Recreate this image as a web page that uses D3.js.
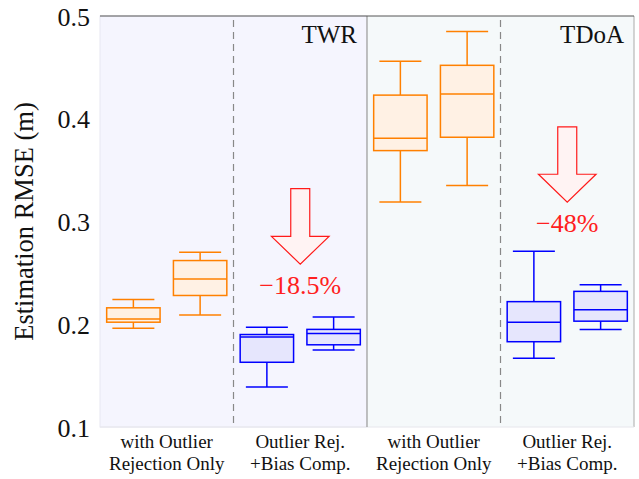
<!DOCTYPE html>
<meta charset="utf-8">
<head>
	<title>Estimation RMSE boxplots</title>
	<script src="https://cdn.jsdelivr.net/npm/d3@7"></script>
	<style>
		body { margin: 0; background: #fff; }
		text { font-family: "Liberation Serif", "Times New Roman", serif; }
	</style>
</head>
<body>
	<div id="chart"></div>
	<script>
		// data
		var groups = ["TWR", "TDoA"];
		var methods = [["with Outlier", "Rejection Only"], ["Outlier Rej.", "+Bias Comp."]];
		// box order: TWR-outlier (2), TWR-bias (2), TDoA-outlier (2), TDoA-bias (2)
		var boxSection = [0, 0, 1, 1, 2, 2, 3, 3];
		var boxSlot = [0, 1, 0, 1, 0, 1, 0, 1];
		var whiskerLo = [0.196, 0.209, 0.139, 0.175, 0.319, 0.335, 0.167, 0.195];
		var q1 = [0.202, 0.228, 0.163, 0.180, 0.369, 0.382, 0.183, 0.203];
		var median = [0.205, 0.244, 0.1875, 0.191, 0.381, 0.424, 0.202, 0.214];
		var q3 = [0.216, 0.262, 0.190, 0.195, 0.423, 0.452, 0.222, 0.232];
		var whiskerHi = [0.224, 0.270, 0.197, 0.207, 0.456, 0.485, 0.271, 0.2385];
		var yTicks = [0.1, 0.2, 0.3, 0.4, 0.5];
		// reduction arrows (one per group, over the bias-comp section)
		var reductions = ["\u221218.5%", "\u221248%"];
		var arrowTop = [0.332, 0.392];
		var arrowNeck = [0.2855, 0.346];
		var arrowTip = [0.2585, 0.3187];

		var w = 639, h = 479;
		var margin = {top: 16, right: 5, bottom: 52, left: 100};

		var svg = d3.select("#chart").append("svg")
			.attr("width", w).attr("height", h);

		var x = d3.scaleBand()
			.domain(d3.range(4))
			.range([margin.left, w - margin.right]);
		var slot = d3.scaleBand()
			.domain([0, 1])
			.range([0, x.bandwidth()])
			.paddingInner(0.2)
			.paddingOuter(0.1);
		var y = d3.scaleLinear()
			.domain([0.1, 0.5])
			.range([h - margin.bottom, margin.top]);

		var x0 = x.range()[0], x1 = x.range()[1];
		var yTop = y(0.5), yBot = y(0.1);
		var mid = x(2);

		// backgrounds
		svg.append("rect").attr("x", x0).attr("y", yTop)
			.attr("width", mid - x0).attr("height", yBot - yTop)
			.style("fill", "#f5f5fe").style("stroke", "#e8e8f2").style("stroke-width", 1);
		svg.append("rect").attr("x", mid).attr("y", yTop)
			.attr("width", x1 - mid).attr("height", yBot - yTop)
			.style("fill", "#f5f9fa").style("stroke", "none");
		svg.append("line").attr("x1", x1).attr("x2", x1).attr("y1", yTop).attr("y2", yBot)
			.style("stroke", "#aaa").style("stroke-width", 1);
		svg.append("line").attr("x1", x0).attr("x2", x1).attr("y1", yBot).attr("y2", yBot)
			.style("stroke", "#e6e6ec").style("stroke-width", 1);
		svg.append("line").attr("x1", mid).attr("x2", mid).attr("y1", yTop).attr("y2", yBot)
			.style("stroke", "#999").style("stroke-width", 1.2);
		svg.append("line").attr("x1", x0).attr("x2", x1).attr("y1", yTop).attr("y2", yTop)
			.style("stroke", "#555").style("stroke-width", 1);

		// dashed separators
		[1, 3].forEach(function (s) {
			svg.append("line")
				.attr("x1", x(s)).attr("x2", x(s))
				.attr("y1", yTop + 4).attr("y2", yBot)
				.style("stroke", "#888").style("stroke-width", 1.2)
				.style("stroke-dasharray", "7,5");
		});

		// y axis
		var yAxis = d3.axisLeft(y).tickValues(yTicks).tickSize(0).tickPadding(10)
			.tickFormat(d3.format(".1f"));
		var gY = svg.append("g").attr("transform", "translate(" + x0 + ",0)").call(yAxis);
		gY.attr("font-family", null).attr("font-size", null);
		gY.select(".domain").remove();
		gY.selectAll("text")
			.style("font-family", "'Liberation Serif', serif")
			.style("font-size", "26px").style("fill", "#111")
			.attr("dy", "0.35em");

		svg.append("text")
			.attr("transform", "translate(33," + ((yTop + yBot) / 2) + ") rotate(-90)")
			.attr("text-anchor", "middle")
			.style("font-size", "26.5px").style("fill", "#111")
			.text("Estimation RMSE (m)");

		// x labels
		d3.range(4).forEach(function (s) {
			var t = svg.append("text")
				.attr("text-anchor", "middle")
				.attr("x", x(s) + x.bandwidth() / 2)
				.attr("y", 448)
				.style("font-size", "19px").style("fill", "#111");
			methods[s % 2].forEach(function (line, i) {
				t.append("tspan").attr("x", x(s) + x.bandwidth() / 2)
					.attr("dy", i === 0 ? 0 : 22).text(line);
			});
		});

		// group labels
		groups.forEach(function (g, i) {
			svg.append("text")
				.attr("x", x(2 * i + 1) + x.bandwidth() - 10)
				.attr("y", 43)
				.attr("text-anchor", "end")
				.style("font-size", "25px").style("fill", "#111")
				.text(g);
		});

		// boxes
		var capW = 42;
		svg.append("g").selectAll("g")
			.data(d3.range(8)).enter().append("g")
			.each(function (i) {
				var g = d3.select(this);
				var isBias = boxSection[i] % 2 === 1;
				var col = isBias ? "#0000ff" : "#ff8000";
				var fill = isBias ? "#e6e6fd" : "#fff1e4";
				var bx = x(boxSection[i]) + slot(boxSlot[i]);
				var cx = bx + slot.bandwidth() / 2;
				g.append("line").attr("x1", cx).attr("x2", cx)
					.attr("y1", y(whiskerLo[i])).attr("y2", y(q1[i]))
					.style("stroke", col).style("stroke-width", 1.5);
				g.append("line").attr("x1", cx).attr("x2", cx)
					.attr("y1", y(q3[i])).attr("y2", y(whiskerHi[i]))
					.style("stroke", col).style("stroke-width", 1.5);
				[whiskerLo[i], whiskerHi[i]].forEach(function (v) {
					g.append("line").attr("x1", cx - capW / 2).attr("x2", cx + capW / 2)
						.attr("y1", y(v)).attr("y2", y(v))
						.style("stroke", col).style("stroke-width", 1.5);
				});
				g.append("rect").attr("x", bx).attr("y", y(q3[i]))
					.attr("width", slot.bandwidth()).attr("height", y(q1[i]) - y(q3[i]))
					.style("fill", fill).style("stroke", col).style("stroke-width", 1.5);
				g.append("line").attr("x1", bx).attr("x2", bx + slot.bandwidth())
					.attr("y1", y(median[i])).attr("y2", y(median[i]))
					.style("stroke", col).style("stroke-width", 1.5);
			});

		// reduction arrows
		var shaftW = 9.5, headW = 28.8;
		reductions.forEach(function (r, i) {
			var cx = x(2 * i + 1) + x.bandwidth() / 2;
			var pts = [
				[cx - shaftW, y(arrowTop[i])], [cx + shaftW, y(arrowTop[i])],
				[cx + shaftW, y(arrowNeck[i])], [cx + headW, y(arrowNeck[i])],
				[cx, y(arrowTip[i])],
				[cx - headW, y(arrowNeck[i])], [cx - shaftW, y(arrowNeck[i])]
			];
			svg.append("path")
				.attr("d", d3.line()(pts) + "Z")
				.style("fill", "#fff3f3").style("stroke", "#ff1a1a").style("stroke-width", 1.2);
			svg.append("text")
				.attr("x", cx).attr("y", y(arrowTip[i]) + 30)
				.attr("text-anchor", "middle")
				.style("font-size", "26px").style("fill", "#ff2020")
				.text(r);
		});
	</script>
</body>
</html>
